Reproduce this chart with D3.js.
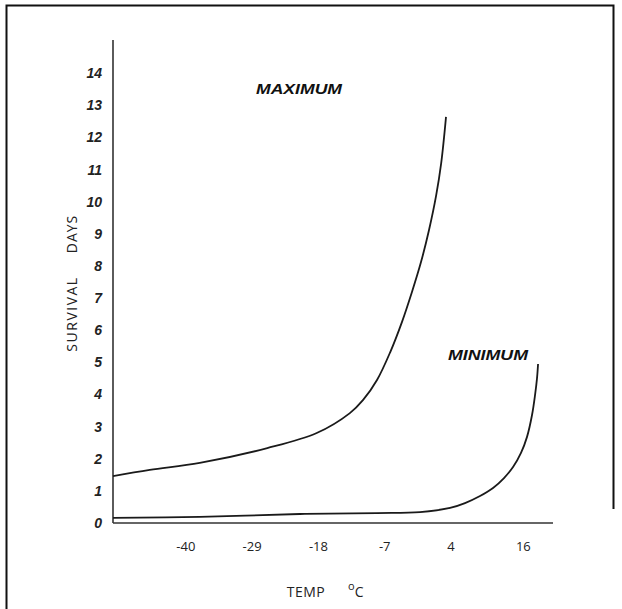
<!DOCTYPE html>
<html>
<head>
<meta charset="utf-8">
<script src="https://cdn.jsdelivr.net/npm/d3@7"></script>
<style>
  html, body { margin: 0; padding: 0; background: #fff; }
  svg { display: block; }
</style>
</head>
<body>
<svg id="chart" width="622" height="609"></svg>
<script>
// ---- data ----
const xTickValues = [-40, -29, -18, -7, 4, 16];
const yTickValues = [0, 1, 2, 3, 4, 5, 6, 7, 8, 9, 10, 11, 12, 13, 14];

const maxTemp = [-52, -45.9, -37.6, -26.4, -18.2, -12.7, -10.5, -8.2, -6.0, -4.05, -2.4, -0.9, 0.43, 1.6, 2.45, 3.25];
const maxDays = [1.46, 1.65, 1.87, 2.33, 2.80, 3.42, 3.83, 4.45, 5.32, 6.26, 7.19, 8.12, 9.12, 10.18, 11.2, 12.64];

const minTemp = [-52, -37.6, -21, -8.2, -1.06, 3.92, 6.4, 8.89, 11.05, 12.87, 14.37, 15.69, 16.69, 17.52, 18.02, 18.35, 18.52];
const minDays = [0.16, 0.19, 0.28, 0.31, 0.34, 0.47, 0.62, 0.84, 1.09, 1.40, 1.74, 2.18, 2.68, 3.36, 3.98, 4.51, 4.95];

const seriesLabels = ["MAXIMUM", "MINIMUM"];
const xTitle = "TEMP";
const xUnit = "C";
const yTitleWords = ["SURVIVAL", "DAYS"];

// ---- layout ----
const svg = d3.select("#chart");
const mLeft = 113, mRight = 553, mBottom = 523, mTop = 41;

const x = d3.scaleLinear().domain([-52, 21]).range([mLeft, mRight]);
const y = d3.scaleLinear().domain([0, 15]).range([mBottom, mTop]);

// frame
svg.append("path")
  .attr("d", d3.line()([[6.5, 609], [6.5, 5.5], [613.5, 5.5], [613.5, 509]]))
  .attr("fill", "none").attr("stroke", "#111").attr("stroke-width", 2);

// axes lines
svg.append("line").attr("x1", mLeft).attr("x2", mLeft).attr("y1", mTop - 1).attr("y2", mBottom)
  .attr("stroke", "#333").attr("stroke-width", 1.6);
svg.append("line").attr("x1", mLeft).attr("x2", mRight).attr("y1", mBottom).attr("y2", mBottom)
  .attr("stroke", "#333").attr("stroke-width", 1.6);

// y tick labels (via axis generator, no tick lines)
const yAxis = d3.axisLeft(y).tickValues(yTickValues).tickSize(0).tickPadding(11).tickFormat(d => String(d));
const gy = svg.append("g").attr("transform", `translate(${mLeft},0)`).call(yAxis);
gy.select(".domain").remove();
gy.selectAll("text")
  .attr("font-family", "'Liberation Sans', Arial, sans-serif")
  .attr("font-style", "italic").attr("font-weight", "bold")
  .attr("font-size", 14).attr("fill", "#222");

// x tick labels
const xAxis = d3.axisBottom(x).tickValues(xTickValues).tickSize(0).tickPadding(19).tickFormat(d => String(d));
const gx = svg.append("g").attr("transform", `translate(0,${mBottom})`).call(xAxis);
gx.select(".domain").remove();
gx.selectAll("text")
  .attr("font-family", "'Open Sans', 'DejaVu Sans', sans-serif")
  .attr("font-size", 13).attr("fill", "#222");

// curves
const line = d3.line().x(d => x(d[0])).y(d => y(d[1])).curve(d3.curveCatmullRom.alpha(0.5));
const maxPts = maxTemp.map((t, i) => [t, maxDays[i]]);
const minPts = minTemp.map((t, i) => [t, minDays[i]]);
[maxPts, minPts].forEach(pts => {
  svg.append("path").attr("d", line(pts))
    .attr("fill", "none").attr("stroke", "#1a1a1a").attr("stroke-width", 1.8);
});

// series labels
const labelFont = "'Liberation Sans', Arial, sans-serif";
function seriesLabel(txt, cx, baseY, len) {
  svg.append("text").text(txt)
    .attr("x", cx).attr("y", baseY)
    .attr("text-anchor", "middle").attr("font-family", labelFont)
    .attr("font-style", "italic").attr("font-weight", "bold").attr("font-size", 14)
    .attr("textLength", len).attr("lengthAdjust", "spacingAndGlyphs")
    .attr("fill", "#111");
}
seriesLabel(seriesLabels[0], 299, 94, 86);
seriesLabel(seriesLabels[1], 488, 360, 80);

// x title
svg.append("text")
  .attr("x", 306).attr("y", 597)
  .attr("text-anchor", "middle")
  .attr("font-family", "'Open Sans', 'DejaVu Sans', sans-serif")
  .attr("font-size", 14).attr("letter-spacing", 0.5).attr("fill", "#222")
  .text(xTitle);
svg.append("text")
  .attr("x", 348).attr("y", 597)
  .attr("font-family", "'Open Sans', 'DejaVu Sans', sans-serif")
  .attr("font-size", 14).attr("fill", "#222")
  .call(t => {
    t.append("tspan").attr("font-size", 11).attr("dy", -7).text("o");
    t.append("tspan").attr("dy", 7).text(xUnit);
  });

// y title
svg.append("text")
  .attr("transform", `translate(77,314) rotate(-90)`)
  .attr("text-anchor", "middle")
  .attr("font-family", "'Open Sans', 'DejaVu Sans', sans-serif")
  .attr("font-size", 14).attr("letter-spacing", 1.5).attr("fill", "#222")
  .text(yTitleWords[0]);
svg.append("text")
  .attr("transform", `translate(77,234) rotate(-90)`)
  .attr("text-anchor", "middle")
  .attr("font-family", "'Open Sans', 'DejaVu Sans', sans-serif")
  .attr("font-size", 14).attr("letter-spacing", 1).attr("fill", "#222")
  .text(yTitleWords[1]);
</script>
</body>
</html>
